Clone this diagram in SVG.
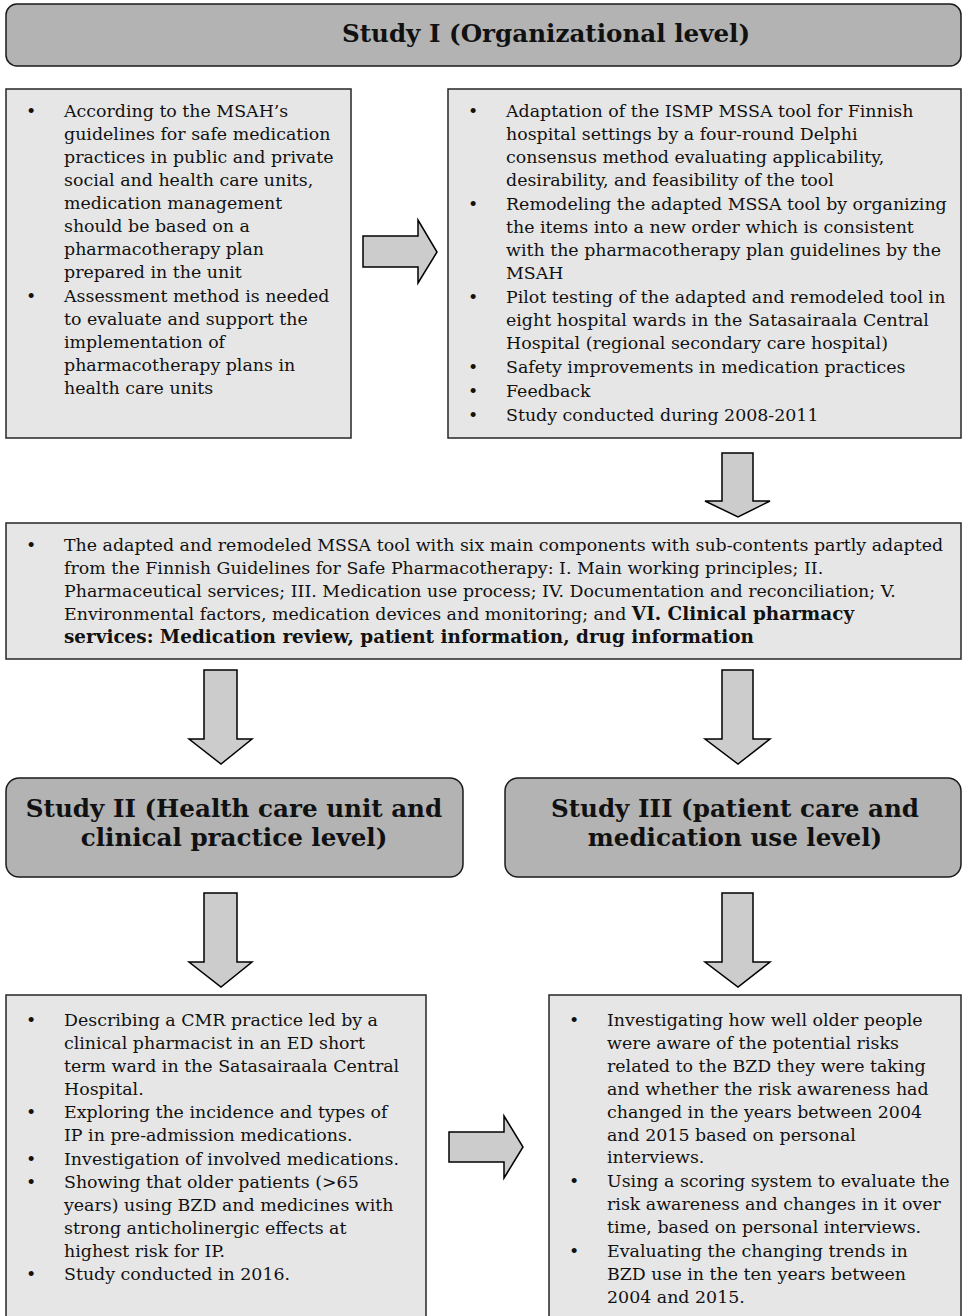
<svg xmlns="http://www.w3.org/2000/svg" width="966" height="1316" viewBox="0 0 966 1316">
<style>
.hdr{fill:#b3b3b3;stroke:#1a1a1a;stroke-width:1.5}
.box{fill:#e6e6e6;stroke:#262626;stroke-width:1.5}
.arr{fill:#cccccc;stroke:#000;stroke-width:1.5;stroke-linejoin:miter}
.t{font-family:"DejaVu Serif","Liberation Serif",serif;font-size:17.4px;fill:#111}
.h{font-family:"DejaVu Serif","Liberation Serif",serif;font-size:24.6px;font-weight:bold;fill:#111;text-anchor:middle}
.b{font-weight:bold;font-size:18.4px}
</style>
<rect width="966" height="1316" fill="#fff"/>

<g id="study1">
<rect class="hdr" x="6" y="4" width="955" height="62" rx="11"/>
<text class="h" x="546" y="42">Study I (Organizational level)</text>
</g>

<g id="box-guidelines">
<rect class="box" x="6" y="89" width="345" height="349"/>
<text class="t">
<tspan x="26" y="117">•</tspan><tspan x="64" y="117">According to the MSAH’s</tspan>
<tspan x="64" y="140">guidelines for safe medication</tspan>
<tspan x="64" y="163">practices in public and private</tspan>
<tspan x="64" y="186">social and health care units,</tspan>
<tspan x="64" y="209">medication management</tspan>
<tspan x="64" y="232">should be based on a</tspan>
<tspan x="64" y="255">pharmacotherapy plan</tspan>
<tspan x="64" y="278">prepared in the unit</tspan>
<tspan x="26" y="302">•</tspan><tspan x="64" y="302">Assessment method is needed</tspan>
<tspan x="64" y="325">to evaluate and support the</tspan>
<tspan x="64" y="348">implementation of</tspan>
<tspan x="64" y="371">pharmacotherapy plans in</tspan>
<tspan x="64" y="394">health care units</tspan>
</text>
</g>

<g id="box-adaptation">
<rect class="box" x="448" y="89" width="513" height="349"/>
<text class="t">
<tspan x="468" y="117">•</tspan><tspan x="506" y="117">Adaptation of the ISMP MSSA tool for Finnish</tspan>
<tspan x="506" y="140">hospital settings by a four-round Delphi</tspan>
<tspan x="506" y="163">consensus method evaluating applicability,</tspan>
<tspan x="506" y="186">desirability, and feasibility of the tool</tspan>
<tspan x="468" y="210">•</tspan><tspan x="506" y="210">Remodeling the adapted MSSA tool by organizing</tspan>
<tspan x="506" y="233">the items into a new order which is consistent</tspan>
<tspan x="506" y="256">with the pharmacotherapy plan guidelines by the</tspan>
<tspan x="506" y="279">MSAH</tspan>
<tspan x="468" y="303">•</tspan><tspan x="506" y="303">Pilot testing of the adapted and remodeled tool in</tspan>
<tspan x="506" y="326">eight hospital wards in the Satasairaala Central</tspan>
<tspan x="506" y="349">Hospital (regional secondary care hospital)</tspan>
<tspan x="468" y="373">•</tspan><tspan x="506" y="373">Safety improvements in medication practices</tspan>
<tspan x="468" y="397">•</tspan><tspan x="506" y="397">Feedback</tspan>
<tspan x="468" y="421">•</tspan><tspan x="506" y="421">Study conducted during 2008-2011</tspan>
</text>
</g>

<g id="box-tool">
<rect class="box" x="6" y="523" width="955" height="136"/>
<text class="t">
<tspan x="26" y="551">•</tspan><tspan x="64" y="551">The adapted and remodeled MSSA tool with six main components with sub-contents partly adapted</tspan>
<tspan x="64" y="574">from the Finnish Guidelines for Safe Pharmacotherapy:  I. Main working principles; II.</tspan>
<tspan x="64" y="597">Pharmaceutical services; III. Medication use process; IV. Documentation and reconciliation; V.</tspan>
<tspan x="64" y="620">Environmental factors, medication devices and monitoring; and <tspan class="b">VI. Clinical pharmacy</tspan></tspan>
<tspan x="64" y="643" class="b">services: Medication review, patient information, drug information</tspan>
</text>
</g>

<g id="study2">
<rect class="hdr" x="6" y="778" width="457" height="99" rx="13"/>
<text class="h"><tspan x="234" y="817">Study II (Health care unit and</tspan><tspan x="234" y="846">clinical practice level)</tspan></text>
</g>

<g id="study3">
<rect class="hdr" x="505" y="778" width="456" height="99" rx="13"/>
<text class="h"><tspan x="735" y="817">Study III (patient care and</tspan><tspan x="735" y="846">medication use level)</tspan></text>
</g>

<g id="box-cmr">
<rect class="box" x="6" y="995" width="420" height="330"/>
<text class="t">
<tspan x="26" y="1026">•</tspan><tspan x="64" y="1026">Describing a CMR practice led by a</tspan>
<tspan x="64" y="1049">clinical pharmacist in an ED short</tspan>
<tspan x="64" y="1072">term ward in the Satasairaala Central</tspan>
<tspan x="64" y="1095">Hospital.</tspan>
<tspan x="26" y="1118">•</tspan><tspan x="64" y="1118">Exploring the incidence and types of</tspan>
<tspan x="64" y="1141">IP in pre-admission medications.</tspan>
<tspan x="26" y="1165">•</tspan><tspan x="64" y="1165">Investigation of involved medications.</tspan>
<tspan x="26" y="1188">•</tspan><tspan x="64" y="1188">Showing that older patients (&gt;65</tspan>
<tspan x="64" y="1211">years) using BZD and medicines with</tspan>
<tspan x="64" y="1234">strong anticholinergic effects at</tspan>
<tspan x="64" y="1257">highest risk for IP.</tspan>
<tspan x="26" y="1280">•</tspan><tspan x="64" y="1280">Study conducted in 2016.</tspan>
</text>
</g>

<g id="box-bzd">
<rect class="box" x="549" y="995" width="412" height="330"/>
<text class="t">
<tspan x="569" y="1026">•</tspan><tspan x="607" y="1026">Investigating how well older people</tspan>
<tspan x="607" y="1049">were aware of the potential risks</tspan>
<tspan x="607" y="1072">related to the BZD they were taking</tspan>
<tspan x="607" y="1095">and whether the risk awareness had</tspan>
<tspan x="607" y="1118">changed in the years between 2004</tspan>
<tspan x="607" y="1141">and 2015 based on personal</tspan>
<tspan x="607" y="1163">interviews.</tspan>
<tspan x="569" y="1187">•</tspan><tspan x="607" y="1187">Using a scoring system to evaluate the</tspan>
<tspan x="607" y="1210">risk awareness and changes in it over</tspan>
<tspan x="607" y="1233">time, based on personal interviews.</tspan>
<tspan x="569" y="1257">•</tspan><tspan x="607" y="1257">Evaluating the changing trends in</tspan>
<tspan x="607" y="1280">BZD use in the ten years between</tspan>
<tspan x="607" y="1303">2004 and 2015.</tspan>
</text>
</g>

<g id="connectors">
<polygon class="arr" points="363,236 418,236 418,220 437,252 418,283 418,267 363,267"/>
<polygon class="arr" points="722,453 753,453 753,501 770,501 738,517 705,501 722,501"/>
<polygon class="arr" points="204,670 237,670 237,739 252,739 221,764 189,739 204,739"/>
<polygon class="arr" points="722,670 753,670 753,739 770,739 738,764 705,739 722,739"/>
<polygon class="arr" points="204,893 237,893 237,962 252,962 221,987 189,962 204,962"/>
<polygon class="arr" points="722,893 753,893 753,962 770,962 738,987 705,962 722,962"/>
<polygon class="arr" points="449,1132 504,1132 504,1116 523,1147 504,1178 504,1162 449,1162"/>
</g>
</svg>
